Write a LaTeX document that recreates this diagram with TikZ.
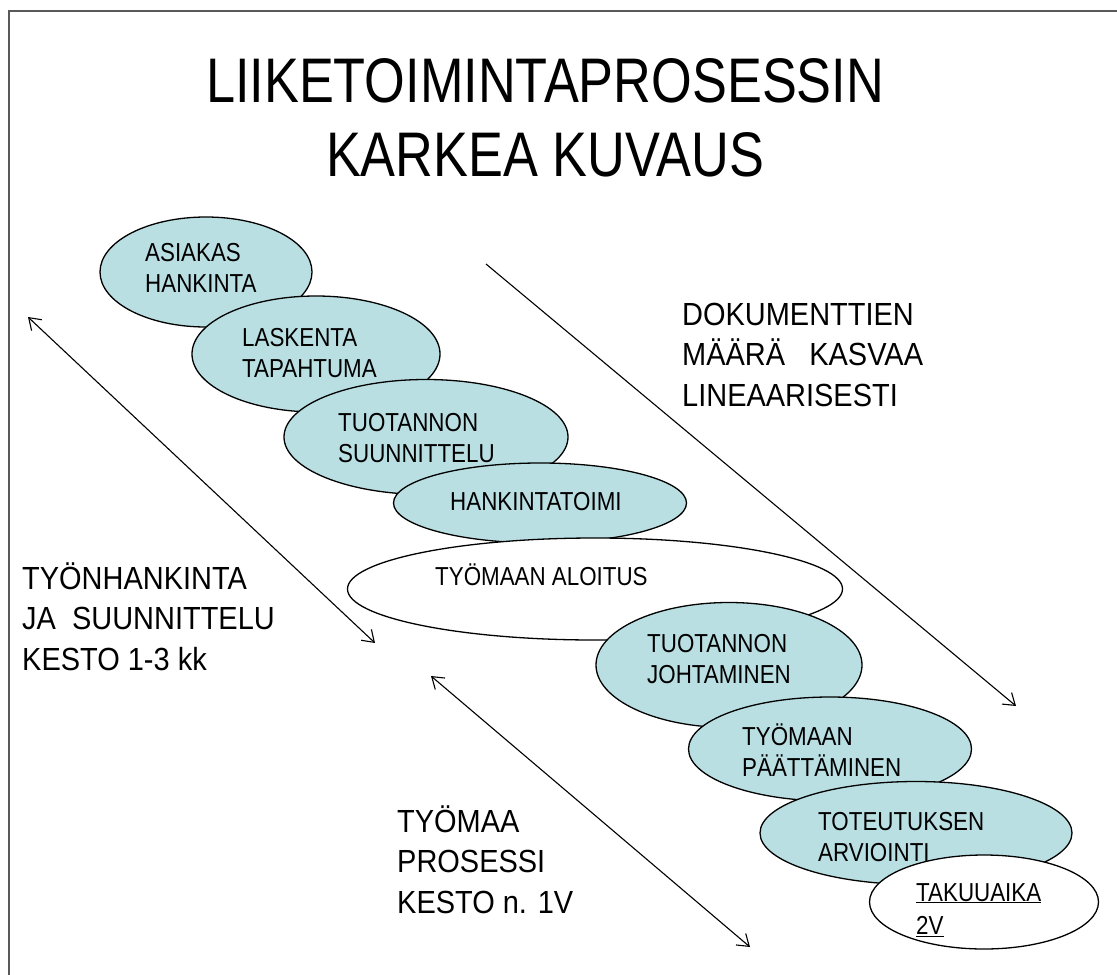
\documentclass[tikz,border=0pt]{standalone}
\usepackage{fontspec}
\setmainfont[FakeStretch=0.86]{Liberation Sans}
\newfontfamily\titlefont[FakeStretch=0.83]{Liberation Sans}
\newfontfamily\notefont[FakeStretch=0.905]{Liberation Sans}
\usetikzlibrary{shapes.geometric,arrows.meta}
\definecolor{bubblefill}{HTML}{B9DFE3}
\definecolor{framegray}{HTML}{595959}
\newcommand{\stackl}[1]{\begin{tabular}[t]{@{}l@{}}#1\end{tabular}}
\newcommand{\ul}[1]{\underline{#1}}
\begin{document}
\begin{tikzpicture}[x=1pt,y=-1pt,
  bubble/.style={ellipse,draw=black,line width=1.3pt,fill=bubblefill,inner sep=0pt},
  plainbubble/.style={bubble,fill=white},
  lbl/.style={anchor=base west,inner sep=0pt,font=\fontsize{26}{31.5}\selectfont},
  sidetext/.style={anchor=base west,inner sep=0pt,font=\notefont\fontsize{32}{40.5}\selectfont},
  titletext/.style={anchor=base,inner sep=0pt,font=\titlefont\fontsize{63}{74}\selectfont},
  span/.style={line width=1.1pt,{Straight Barb[length=11pt,width=15pt,line width=1.1pt]}-{Straight Barb[length=11pt,width=15pt,line width=1.1pt]}},
  oneway/.style={line width=1.1pt,-{Straight Barb[length=11pt,width=15pt,line width=1.1pt]}},
  frameline/.style={draw=framegray,line width=2.5pt}]
\useasboundingbox (0,0) rectangle (1117,975);
\fill[white] (0,0) rectangle (1117,975);

% slide frame
\draw[frameline] (9,975) -- (9,11) -- (1117,11);

% title
\node[titletext] (title1) at (545,102) {LIIKETOIMINTAPROSESSIN};
\node[titletext] (title2) at (545,176) {KARKEA KUVAUS};

% process steps, each drawn over the previous one
\node[bubble,minimum width=212pt,minimum height=110pt] (e1) at (206,272) {};
\node[lbl] (t1) at (145,261) {\stackl{ASIAKAS\\HANKINTA}};
\node[bubble,minimum width=248pt,minimum height=116pt] (e2) at (316,354) {};
\node[lbl] (t2) at (242,346) {\stackl{LASKENTA\\TAPAHTUMA}};
\node[bubble,minimum width=284pt,minimum height=115pt] (e3) at (426,437) {};
\node[lbl] (t3) at (338,431) {\stackl{TUOTANNON\\SUUNNITTELU}};
\node[bubble,minimum width=293pt,minimum height=80pt] (e4) at (540,503) {};
\node[lbl] (t4) at (450,510) {HANKINTATOIMI};
\node[plainbubble,minimum width=495pt,minimum height=102pt] (e5) at (595,589) {};
\node[lbl] (t5) at (435,585) {TYÖMAAN ALOITUS};
\node[bubble,minimum width=266pt,minimum height=125pt] (e6) at (729,665) {};
\node[lbl] (t6) at (647,652) {\stackl{TUOTANNON\\JOHTAMINEN}};
\node[bubble,minimum width=283pt,minimum height=104pt] (e7) at (830,749) {};
\node[lbl] (t7) at (742,745) {\stackl{TYÖMAAN\\PÄÄTTÄMINEN}};
\node[bubble,minimum width=312pt,minimum height=103pt] (e8) at (916,833) {};
\node[lbl] (t8) at (818,830) {\stackl{TOTEUTUKSEN\\ARVIOINTI}};
\node[plainbubble,minimum width=229pt,minimum height=94pt] (e9) at (984,902) {};
\node[lbl] (t9) at (916,901) {\stackl{\ul{TAKUUAIKA}\\[2pt]\ul{2V}}};

% side notes
\node[sidetext] (n1) at (22,589) {\stackl{TYÖNHANKINTA\\JA\ \ SUUNNITTELU\\KESTO 1-3 kk}};
\node[sidetext] (n2) at (682,325) {\stackl{DOKUMENTTIEN\\MÄÄRÄ\ \ \ KASVAA\\LINEAARISESTI}};
\node[sidetext] (n3) at (397,832) {\stackl{TYÖMAA\\PROSESSI\\KESTO n. 1V}};

% duration and growth arrows
\coordinate (p1a) at (28,317);
\coordinate (p1b) at (375,643);
\coordinate (p2a) at (431,676);
\coordinate (p2b) at (750,947);
\coordinate (p3a) at (486,264);
\coordinate (p3b) at (1016,706);
\draw[span] (p1a) -- (p1b);
\draw[span] (p2a) -- (p2b);
\draw[oneway] (p3a) -- (p3b);
\end{tikzpicture}
\end{document}
